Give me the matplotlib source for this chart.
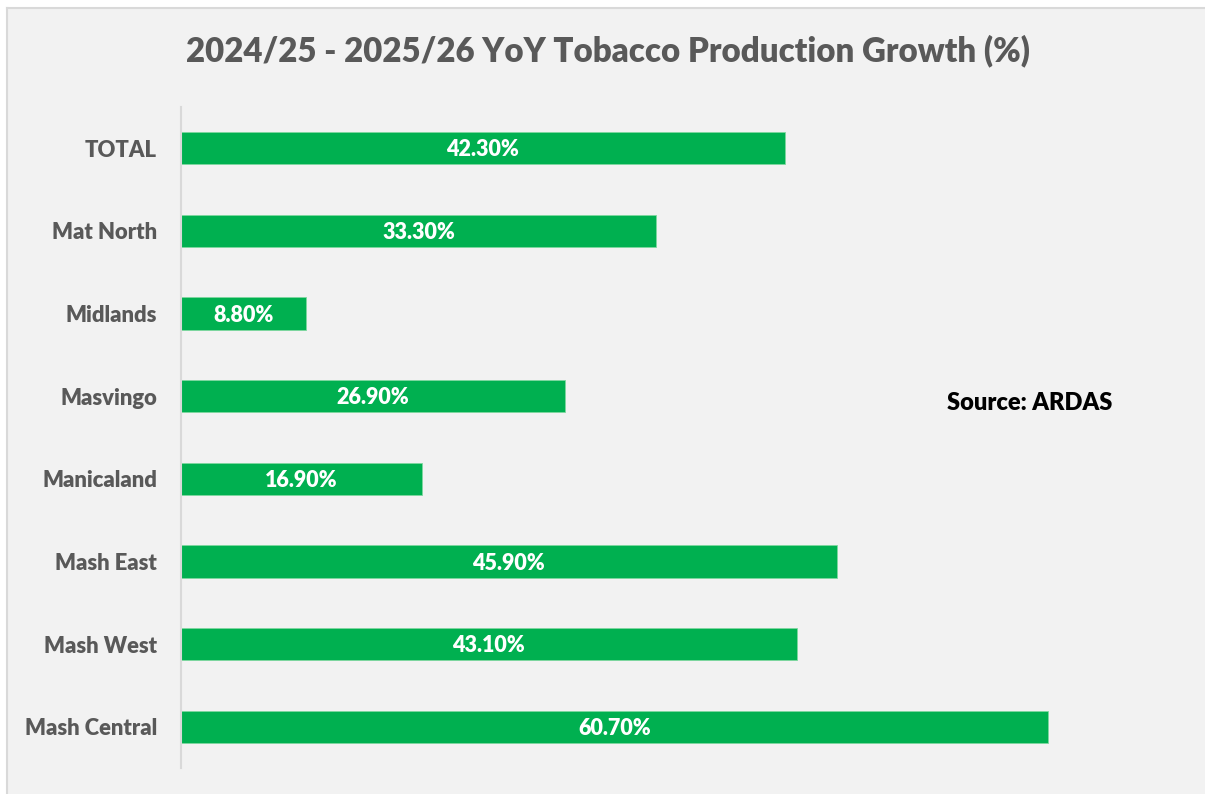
import matplotlib.pyplot as plt
from matplotlib.patches import Rectangle
from matplotlib.lines import Line2D

# data, top to bottom as in the chart
regions = ["TOTAL", "Mat North", "Midlands", "Masvingo", "Manicaland",
           "Mash East", "Mash West", "Mash Central"]
growth = [42.3, 33.3, 8.8, 26.9, 16.9, 45.9, 43.1, 60.7]
title = "2024/25 - 2025/26 YoY Tobacco Production Growth (%)"
source = "Source: ARDAS"

plt.rcParams['font.family'] = ['Lato', 'DejaVu Sans']
wt = 800

W, H = 1205, 794
fig = plt.figure(figsize=(W / 100, H / 100), dpi=100)
fig.patch.set_facecolor('white')

# chart area box (light grey, border only on left and top, cut off at right/bottom)
x0, y0 = 7 / W, 1 - 8 / H
fig.patches.append(Rectangle((x0, 0), 1 - x0, y0, transform=fig.transFigure,
                             facecolor='#F2F2F2', edgecolor='none', zorder=-1))
fig.lines.append(Line2D([x0, x0], [0, y0], transform=fig.transFigure,
                        color='#D9D9D9', linewidth=1.5))
fig.lines.append(Line2D([x0, 1], [y0, y0], transform=fig.transFigure,
                        color='#D9D9D9', linewidth=1.5))

ax = fig.add_axes([180.5 / W, 1 - 768 / H, (1181 - 180.5) / W, (768 - 107) / H])
ax.set_facecolor('none')

y = list(range(len(regions)))
ax.barh(y, growth, height=0.39, color='#00B050', edgecolor='#7FD89F', linewidth=0.6)
ax.set_ylim(len(regions) - 0.5, -0.5)
ax.set_xlim(0, 70)

for yi, v in zip(y, growth):
    ax.text(v / 2, yi + 0.02, f"{v:.2f}%", ha='center', va='center', color='white',
            fontsize=15.5, fontweight=wt)

ax.set_yticks(y)
ax.set_yticklabels(regions, fontsize=15.8, fontweight=wt, color='#595959')
ax.tick_params(axis='y', length=0, pad=17)
ax.set_xticks([])
for s in ['top', 'right', 'bottom']:
    ax.spines[s].set_visible(False)
ax.spines['left'].set_color('#D9D9D9')
ax.spines['left'].set_linewidth(1.5)

fig.text(608 / W, 1 - 51 / H, title, ha='center', va='center', fontsize=23.8,
         fontweight=wt, color='#595959')
fig.text(947 / W, 1 - 403 / H, source, ha='left', va='center', fontsize=17,
         fontweight=wt, color='black')

plt.savefig("out.png", dpi=100, facecolor=fig.get_facecolor())
